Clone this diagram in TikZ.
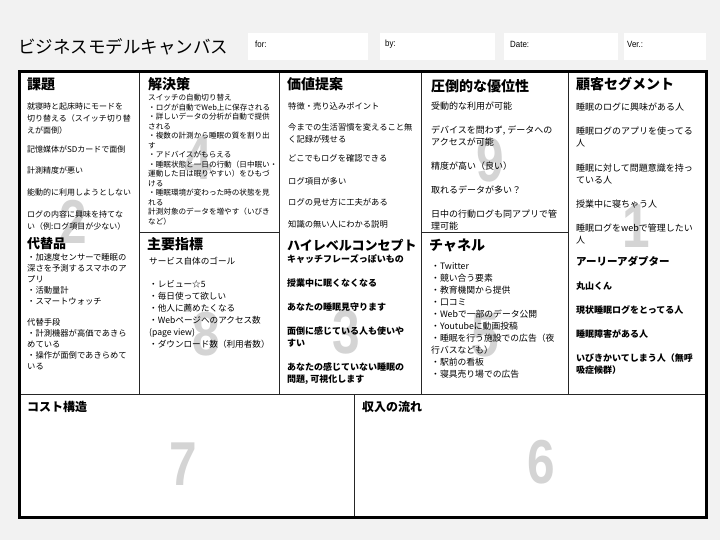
\documentclass[tikz,border=0pt]{standalone}
\usepackage{fontspec}
\setmainfont{Noto Sans CJK JP}
\newfontfamily\latn{Liberation Sans}
\definecolor{bg}{RGB}{242,242,242}
\definecolor{numgray}{RGB}{212,212,212}
\tikzset{
  head/.style={anchor=west, inner sep=0, font=\fontsize{14}{16}\selectfont\bfseries},
  subhead/.style={anchor=west, inner sep=0, font=\fontsize{10.5}{12}\selectfont\bfseries},
  txt/.style={anchor=north west, inner sep=0, align=left},
  bignum/.style={inner sep=0, font=\latn\bfseries\fontsize{62}{62}\selectfont, text=numgray, xscale=0.8},
  hdrbox/.style={fill=white, draw=none},
  hdrlabel/.style={anchor=west, inner sep=0, font=\latn\fontsize{9}{10}\selectfont, xscale=0.88},
  gridline/.style={line width=0.8pt, draw=black!85},
  frameline/.style={line width=3pt, draw=black}
}
\begin{document}
\begin{tikzpicture}[x=1pt,y=-1pt]
\fill[bg] (0,0) rectangle (720,540);
\useasboundingbox (0,0) rectangle (720,540);
% header
\node[anchor=west, inner sep=0, font=\fontsize{17.5}{20}\selectfont] (title) at (18,47) {ビジネスモデルキャンバス};
\fill[hdrbox] (248,33) rectangle (368,60);
\fill[hdrbox] (380,33) rectangle (495,60);
\fill[hdrbox] (504,33) rectangle (618,60);
\fill[hdrbox] (624,33) rectangle (706,60);
\node[hdrlabel] (for) at (255,44) {for:};
\node[hdrlabel] (by) at (385,44) {by:};
\node[hdrlabel] (date) at (510,44) {Date:};
\node[hdrlabel] (ver) at (627,44) {Ver.:};
% canvas
\fill[white] (19,72) rectangle (706,517);
% big numbers
\node[bignum] (n2) at (73,222) {2};
\node[bignum] (n4) at (198,158) {4};
\node[bignum] (n9) at (490,160) {9};
\node[bignum] (n1) at (636,226) {1};
\node[bignum] (n8) at (206,334) {8};
\node[bignum] (n3) at (346,332) {3};
\node[bignum] (n5) at (485,335) {5};
\node[bignum] (n7) at (183,464) {7};
\node[bignum] (n6) at (541,462) {6};
% grid
\draw[gridline] (139,72) -- (139,394);
\draw[gridline] (279,72) -- (279,394);
\draw[gridline] (421,72) -- (421,394);
\draw[gridline] (568,72) -- (568,394);
\draw[gridline] (19,394) -- (706,394);
\draw[gridline] (354,394) -- (354,517);
\draw[gridline] (139,232) -- (279,232);
\draw[gridline] (421,232) -- (568,232);
\draw[frameline] (19,72) rectangle (706,517);
% column 1
\node[head] (h1) at (27,84) {課題};
\begin{scope}[every node/.style={txt, font=\fontsize{8}{12}\selectfont}]
\node (c1a) at (27,103) {就寝時と起床時にモードを\\切り替える（スイッチ切り替\\えが面倒）};
\node (c1b) at (27,146) {記憶媒体がSDカードで面倒};
\node (c1c) at (27,167) {計測精度が悪い};
\node (c1d) at (27,189) {能動的に利用しようとしない};
\node (c1e) at (27,211) {ログの内容に興味を持てな\\い（例:ログ項目が少ない）};
\end{scope}
\node[head, font=\fontsize{13}{15}\selectfont\bfseries] (h2) at (27,244) {代替品};
\begin{scope}[every node/.style={txt, font=\fontsize{8.3}{11}\selectfont}]
\node (c1f) at (27,253) {・加速度センサーで睡眠の\\深さを予測するスマホのア\\プリ\\・活動量計\\・スマートウォッチ};
\node (c1g) at (27,318) {代替手段\\・計測機器が高価であきら\\めている\\・操作が面倒であきらめて\\いる};
\end{scope}
% column 2
\node[head] (h3) at (148,84) {解決策};
\node[txt, font=\fontsize{7.6}{9.5}\selectfont] (c2a) at (148,94.2) {スイッチの自動切り替え\\・ログが自動でWeb上に保存される\\・詳しいデータの分析が自動で提供\\される\\・複数の計測から睡眠の質を割り出\\す\\・アドバイスがもらえる\\・睡眠状態と一日の行動（日中眠い・\\運動した日は眠りやすい）をひもづ\\ける\\・睡眠環境が変わった時の状態を見\\れる\\計測対象のデータを増やす（いびき\\など）};
\node[head] (h4) at (147,244) {主要指標};
\begin{scope}[every node/.style={txt, font=\fontsize{8.6}{12}\selectfont}]
\node (c2b) at (149,256.7) {サービス自体のゴール};
\node (c2c) at (149,280.7) {・レビュー☆5\\・毎日使って欲しい\\・他人に薦めたくなる\\・Webページへのアクセス数\\(page view)\\・ダウンロード数（利用者数）};
\end{scope}
% column 3
\node[head] (h5) at (287,84) {価値提案};
\begin{scope}[every node/.style={txt, font=\fontsize{8.3}{12}\selectfont}]
\node (c3a) at (288,102) {特徴・売り込みポイント};
\node (c3b) at (288,123) {今までの生活習慣を変えること無\\く記録が残せる};
\node (c3c) at (288,154) {どこでもログを確認できる};
\node (c3d) at (288,177) {ログ項目が多い};
\node (c3e) at (288,198) {ログの見せ方に工夫がある};
\node (c3f) at (288,220) {知識の無い人にわかる説明};
\end{scope}
\node[head, font=\fontsize{13}{15}\selectfont\bfseries] (h6) at (287,245) {ハイレベルコンセプト};
\begin{scope}[every node/.style={txt, font=\fontsize{9}{12}\selectfont\bfseries}]
\node (c3g) at (287,254.5) {キャッチフレーズっぽいもの};
\node (c3h) at (287,278.5) {授業中に眠くなくなる};
\node (c3i) at (287,302.5) {あなたの睡眠見守ります};
\node (c3j) at (287,326.5) {面倒に感じている人も使いや\\すい};
\node (c3k) at (287,362.5) {あなたの感じていない睡眠の\\問題, 可視化します};
\end{scope}
% column 4
\node[head] (h7) at (431,86) {圧倒的な優位性};
\begin{scope}[every node/.style={txt, font=\fontsize{9}{12}\selectfont}]
\node (c4a) at (431,101.5) {受動的な利用が可能};
\node (c4b) at (431,125.5) {デバイスを問わず, データへの\\アクセスが可能};
\node (c4c) at (431,161.5) {精度が高い（良い）};
\node (c4d) at (431,185.5) {取れるデータが多い？};
\node (c4e) at (431,209.5) {日中の行動ログも同アプリで管\\理可能};
\end{scope}
\node[head] (h8) at (429,245) {チャネル};
\node[txt, font=\fontsize{8.8}{12}\selectfont] (c4f) at (431,262.6) {・Twitter\\・競い合う要素\\・教育機関から提供\\・口コミ\\・Webで一部のデータ公開\\・Youtubeに動画投稿\\・睡眠を行う施設での広告（夜\\行バスなども）\\・駅前の看板\\・寝具売り場での広告};
% column 5
\node[head] (h9) at (576,84) {顧客セグメント};
\begin{scope}[every node/.style={txt, font=\fontsize{9}{12}\selectfont}]
\node (c5a) at (576,102.5) {睡眠のログに興味がある人};
\node (c5b) at (576,126.5) {睡眠ログのアプリを使ってる\\人};
\node (c5c) at (576,163.5) {睡眠に対して問題意識を持っ\\ている人};
\node (c5d) at (576,199.5) {授業中に寝ちゃう人};
\node (c5e) at (576,223.5) {睡眠ログをwebで管理したい\\人};
\end{scope}
\node[subhead] (h10) at (576,261) {アーリーアダプター};
\begin{scope}[every node/.style={txt, font=\fontsize{9}{12}\selectfont\bfseries}]
\node (c5f) at (576,281.5) {丸山くん};
\node (c5g) at (576,305.5) {現状睡眠ログをとってる人};
\node (c5h) at (576,329.5) {睡眠障害がある人};
\node (c5i) at (576,353.5) {いびきかいてしまう人（無呼\\吸症候群）};
\end{scope}
% bottom
\node[head, font=\fontsize{12}{14}\selectfont\bfseries] (h11) at (27,407) {コスト構造};
\node[head, font=\fontsize{12}{14}\selectfont\bfseries] (h12) at (362,407) {収入の流れ};
\end{tikzpicture}
\end{document}
